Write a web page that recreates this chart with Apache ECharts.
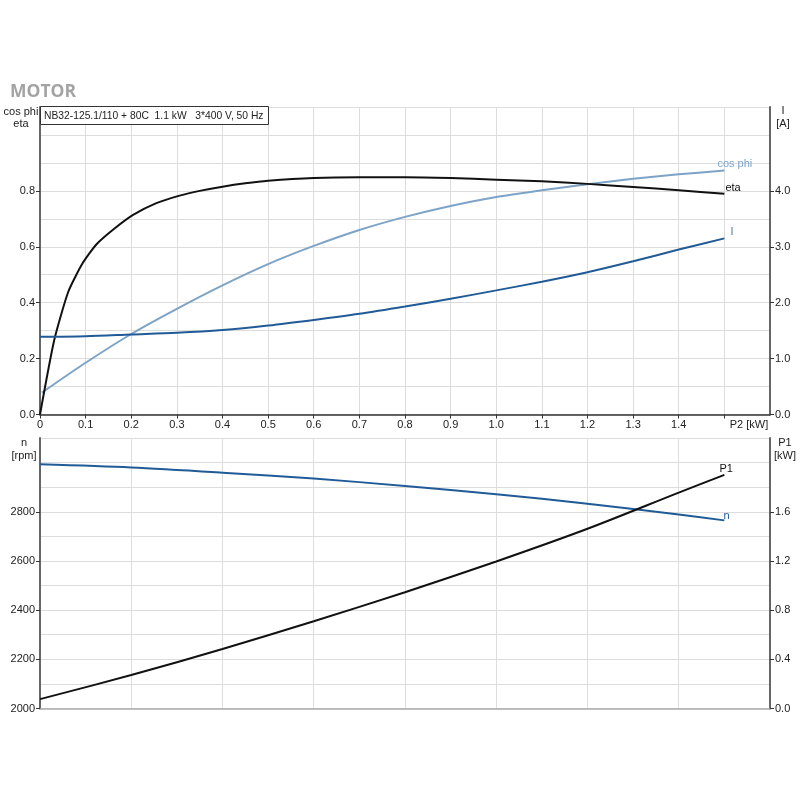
<!DOCTYPE html>
<html><head><meta charset="utf-8">
<script src="https://cdn.jsdelivr.net/npm/echarts@6/dist/echarts.min.js"></script>
<style>html,body{margin:0;padding:0;background:#fff}#c{width:800px;height:800px}</style>
</head><body><div id="c"></div>
<script>
// ---- data ----
const etaP2  = [0, 0.031, 0.062, 0.093, 0.124, 0.164, 0.204, 0.255, 0.306, 0.35, 0.4, 0.45, 0.5, 0.6, 0.7, 0.8, 0.9, 1.0, 1.1, 1.2, 1.3, 1.4, 1.5];
const etaVal = [0, 0.265, 0.439, 0.54, 0.609, 0.666, 0.714, 0.756, 0.783, 0.80, 0.815, 0.827, 0.836, 0.846, 0.849, 0.849, 0.846, 0.84, 0.834, 0.825, 0.814, 0.802, 0.79];
const cosP2  = [0.004, 0.1, 0.2, 0.3, 0.4, 0.5, 0.6, 0.7, 0.8, 0.9, 1.0, 1.1, 1.2, 1.3, 1.4, 1.5];
const cosVal = [0.078, 0.185, 0.288, 0.378, 0.462, 0.538, 0.603, 0.66, 0.707, 0.746, 0.778, 0.802, 0.824, 0.843, 0.859, 0.873];
const curP2  = [0, 0.1, 0.2, 0.3, 0.4, 0.5, 0.6, 0.7, 0.8, 0.9, 1.0, 1.1, 1.2, 1.3, 1.4, 1.5];
const curVal = [1.39, 1.40, 1.43, 1.46, 1.51, 1.59, 1.69, 1.80, 1.93, 2.07, 2.22, 2.375, 2.545, 2.74, 2.95, 3.15];
const lowP2  = [0, 0.2, 0.4, 0.6, 0.8, 1.0, 1.2, 1.4, 1.5];
const nVal   = [2993, 2980, 2959, 2935, 2905, 2871, 2833, 2789, 2765];
const p1Val  = [0.076, 0.272, 0.484, 0.71, 0.946, 1.196, 1.462, 1.756, 1.90];
// tick labels
const p2Labels   = [0, 0.1, 0.2, 0.3, 0.4, 0.5, 0.6, 0.7, 0.8, 0.9, 1.0, 1.1, 1.2, 1.3, 1.4];
const p2Ticks    = [0, 0.1, 0.2, 0.3, 0.4, 0.5, 0.6, 0.7, 0.8, 0.9, 1.0, 1.1, 1.2, 1.3, 1.4, 1.5];
const effLabels  = [0, 0.2, 0.4, 0.6, 0.8];
const curLabels  = [0, 1, 2, 3, 4];
const nLabels    = [2000, 2200, 2400, 2600, 2800];
const p1Labels   = [0, 0.4, 0.8, 1.2, 1.6];
const infoText   = 'NB32-125.1/110 + 80C  1.1 kW   3*400 V, 50 Hz';

const FONT = '"Liberation Sans", Arial, sans-serif';
const pairs = (xs, ys) => xs.map((x, i) => [x, ys[i]]);
const GRID = '#dddddd';
const AX = '#666666';
const TXT = '#222222';

const chart = echarts.init(document.getElementById('c'), null, {renderer: 'canvas'});
const lbl = {fontSize: 11, color: TXT, fontFamily: FONT};
const gridOnly = (gi, min, max, interval) => ({
  gridIndex: gi, type: 'value', min: min, max: max, interval: interval,
  axisLine: {show: false}, axisTick: {show: false}, axisLabel: {show: false},
  splitLine: {show: true, lineStyle: {color: GRID}}
});

chart.setOption({
  animation: false,
  textStyle: {fontFamily: FONT},
  title: {text: 'MOTOR', left: 5, top: 78, textStyle: {fontSize: 17.5, fontWeight: 'bold', color: '#a3a3a3', fontFamily: '"Open Sans", sans-serif'}},
  grid: [
    {left: 40, right: 30, top: 107, height: 307.5},
    {left: 40, right: 30, top: 438, height: 270.5}
  ],
  xAxis: [
    {gridIndex: 0, type: 'value', min: 0, max: 1.6, interval: 0.1,
     axisLine: {onZero: false, lineStyle: {color: '#333', width: 1.5}},
     axisTick: {show: true, customValues: p2Ticks, length: 4, lineStyle: {color: '#333'}},
     axisLabel: Object.assign({customValues: p2Labels, margin: 5, formatter: v => v === 0 ? '0' : v.toFixed(1)}, lbl),
     splitLine: {show: true, lineStyle: {color: GRID}}},
    {gridIndex: 1, type: 'value', min: 0, max: 1.6, interval: 0.2,
     axisLine: {onZero: false, lineStyle: {color: '#aaaaaa', width: 1.5}},
     axisTick: {show: false}, axisLabel: {show: false},
     splitLine: {show: true, lineStyle: {color: GRID}}}
  ],
  yAxis: [
    {gridIndex: 0, type: 'value', min: 0, max: 1.1, interval: 0.1, position: 'left',
     axisLine: {show: true, lineStyle: {color: AX, width: 2}},
     axisTick: {show: true, customValues: effLabels, length: 4, lineStyle: {color: '#333'}},
     axisLabel: Object.assign({customValues: effLabels, margin: 5, formatter: v => v.toFixed(1)}, lbl),
     splitLine: {show: false}},
    {gridIndex: 0, type: 'value', min: 0, max: 5.5, interval: 0.5, position: 'right',
     axisLine: {show: true, lineStyle: {color: AX, width: 2}},
     axisTick: {show: true, customValues: curLabels, length: 4, lineStyle: {color: '#333'}},
     axisLabel: Object.assign({customValues: curLabels, margin: 5, formatter: v => v.toFixed(1)}, lbl),
     splitLine: {show: false}},
    {gridIndex: 1, type: 'value', min: 2000, max: 3100, interval: 100, position: 'left',
     axisLine: {show: true, lineStyle: {color: AX, width: 2}},
     axisTick: {show: true, customValues: nLabels, length: 4, lineStyle: {color: '#333'}},
     axisLabel: Object.assign({customValues: nLabels, margin: 5, formatter: v => String(v)}, lbl),
     splitLine: {show: false}},
    {gridIndex: 1, type: 'value', min: 0, max: 2.2, interval: 0.2, position: 'right',
     axisLine: {show: true, lineStyle: {color: AX, width: 2}},
     axisTick: {show: true, customValues: p1Labels, length: 4, lineStyle: {color: '#333'}},
     axisLabel: Object.assign({customValues: p1Labels, margin: 5, formatter: v => v.toFixed(1)}, lbl),
     splitLine: {show: false}},
    Object.assign(gridOnly(0, 0, 1.1, 0.1), {z: -1}),
    Object.assign(gridOnly(1, 2000, 3100, 100), {z: -1})
  ],
  series: [
    {name: 'cos phi', type: 'line', xAxisIndex: 0, yAxisIndex: 0, data: pairs(cosP2, cosVal), smooth: 0.3, showSymbol: false,
     lineStyle: {color: '#7da3c7', width: 2}, itemStyle: {color: '#7da3c7'},
     endLabel: {show: true, formatter: 'cos phi', offset: [-15, -6], color: '#7da3c7', fontSize: 11, fontFamily: FONT}},
    {name: 'eta', type: 'line', xAxisIndex: 0, yAxisIndex: 0, data: pairs(etaP2, etaVal), smooth: 0.2, showSymbol: false,
     lineStyle: {color: '#111', width: 2}, itemStyle: {color: '#111'},
     endLabel: {show: true, formatter: 'eta', offset: [-7, -6], color: '#111', fontSize: 11, fontFamily: FONT}},
    {name: 'I', type: 'line', xAxisIndex: 0, yAxisIndex: 1, data: pairs(curP2, curVal), smooth: 0.3, showSymbol: false,
     lineStyle: {color: '#215b97', width: 2}, itemStyle: {color: '#215b97'},
     endLabel: {show: true, formatter: 'I', offset: [-2, -6], color: '#5a7fae', fontSize: 11, fontFamily: FONT}},
    {name: 'n', type: 'line', xAxisIndex: 1, yAxisIndex: 2, data: pairs(lowP2, nVal), smooth: 0.3, showSymbol: false,
     lineStyle: {color: '#215b97', width: 2}, itemStyle: {color: '#215b97'},
     endLabel: {show: true, formatter: 'n', offset: [-9, -4], color: '#215b97', fontSize: 11, fontFamily: FONT}},
    {name: 'P1', type: 'line', xAxisIndex: 1, yAxisIndex: 3, data: pairs(lowP2, p1Val), smooth: 0.3, showSymbol: false,
     lineStyle: {color: '#111', width: 2}, itemStyle: {color: '#111'},
     endLabel: {show: true, formatter: 'P1', offset: [-13, -6], color: '#111', fontSize: 11, fontFamily: FONT}}
  ],
  graphic: [
    {type: 'rect', z: 100, shape: {x: 40.5, y: 106.5, width: 228, height: 18}, style: {fill: '#fff', stroke: '#333', lineWidth: 1}},
    {type: 'text', z: 101, x: 44, y: 116, style: {text: infoText, font: '10.3px ' + FONT, fill: '#222', verticalAlign: 'middle'}},
    {type: 'text', x: 21, y: 112, style: {text: 'cos phi', font: '11px ' + FONT, fill: TXT, align: 'center', verticalAlign: 'middle'}},
    {type: 'text', x: 21, y: 124, style: {text: 'eta', font: '11px ' + FONT, fill: TXT, align: 'center', verticalAlign: 'middle'}},
    {type: 'text', x: 783, y: 111, style: {text: 'I', font: '11px ' + FONT, fill: TXT, align: 'center', verticalAlign: 'middle'}},
    {type: 'text', x: 783, y: 124, style: {text: '[A]', font: '11px ' + FONT, fill: TXT, align: 'center', verticalAlign: 'middle'}},
    {type: 'text', x: 749, y: 425, style: {text: 'P2 [kW]', font: '11px ' + FONT, fill: TXT, align: 'center', verticalAlign: 'middle'}},
    {type: 'text', x: 24, y: 443, style: {text: 'n', font: '11px ' + FONT, fill: TXT, align: 'center', verticalAlign: 'middle'}},
    {type: 'text', x: 24, y: 456, style: {text: '[rpm]', font: '11px ' + FONT, fill: TXT, align: 'center', verticalAlign: 'middle'}},
    {type: 'text', x: 785, y: 443, style: {text: 'P1', font: '11px ' + FONT, fill: TXT, align: 'center', verticalAlign: 'middle'}},
    {type: 'text', x: 785, y: 456, style: {text: '[kW]', font: '11px ' + FONT, fill: TXT, align: 'center', verticalAlign: 'middle'}}
  ]
});
</script>
</body></html>
